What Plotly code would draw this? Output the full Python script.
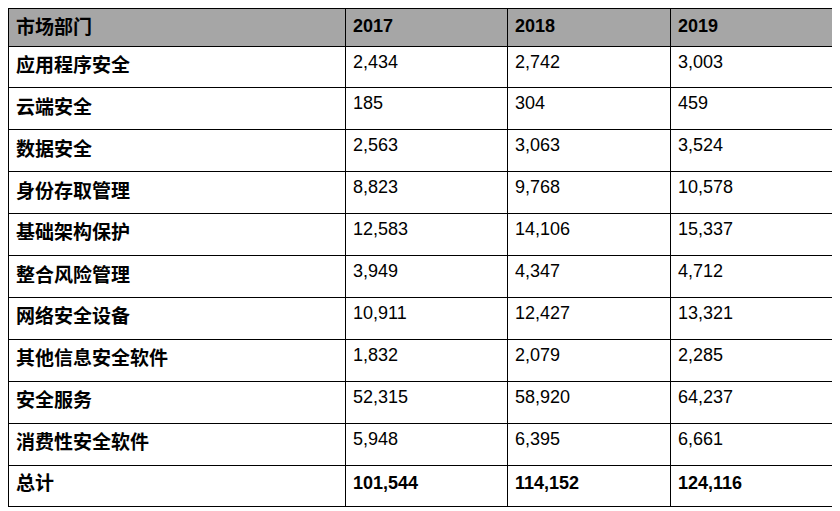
import plotly.graph_objects as go

header_labels = ["市场部门", "2017", "2018", "2019"]
segments = ["应用程序安全", "云端安全", "数据安全", "身份存取管理", "基础架构保护",
            "整合风险管理", "网络安全设备", "其他信息安全软件", "安全服务", "消费性安全软件"]
v2017 = [2434, 185, 2563, 8823, 12583, 3949, 10911, 1832, 52315, 5948]
v2018 = [2742, 304, 3063, 9768, 14106, 4347, 12427, 2079, 58920, 6395]
v2019 = [3003, 459, 3524, 10578, 15337, 4712, 13321, 2285, 64237, 6661]
total_label = "总计"
totals = [101544, 114152, 124116]

W, H = 840, 511

def fmt(col):
    return [f"{v:,}" for v in col]

col0 = [f"<b>{s}</b>" for s in segments + [total_label]]
cols = [col0] + [fmt(c) + [f"<b>{t:,}</b>"] for c, t in zip([v2017, v2018, v2019], totals)]

font_family = "Liberation Sans, Arial, Noto Sans CJK SC, sans-serif"

fig = go.Figure(go.Table(
    domain=dict(x=[0, 1], y=[0, 1]),
    columnwidth=[337, 162, 163, 162],
    header=dict(
        values=[f"<b>{h}</b>" for h in header_labels],
        fill_color="#a6a6a6",
        line=dict(color="black", width=1),
        align="left",
        height=38,
        font=dict(family=font_family, size=[19, 18, 18, 18], color="black"),
    ),
    cells=dict(
        values=cols,
        fill_color="white",
        line=dict(color="black", width=1),
        align="left",
        height=41.9,
        font=dict(family=font_family, size=[19, 18, 18, 18], color="black"),
    ),
))

fig.update_layout(
    width=W, height=H,
    margin=dict(l=0, r=16, t=0, b=0),
    paper_bgcolor="white",
)

fig.write_html("out.html")
